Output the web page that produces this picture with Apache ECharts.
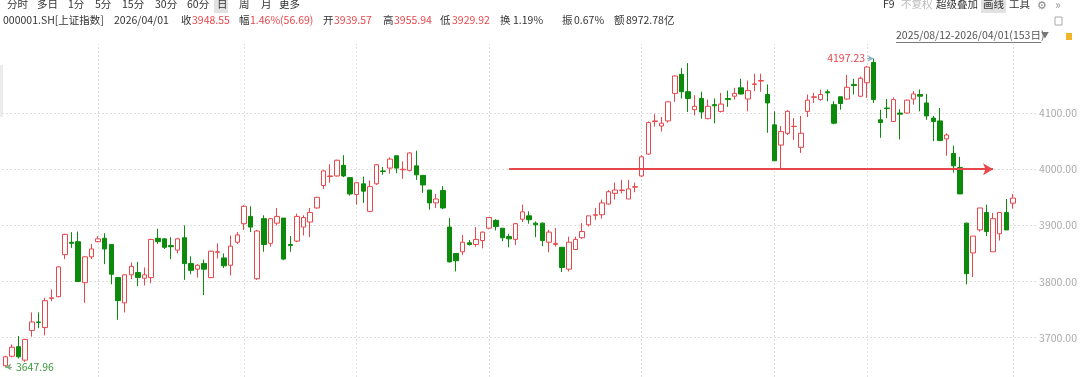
<!DOCTYPE html>
<html>
<head>
<meta charset="utf-8">
<title>上证指数 日K</title>
<script src="https://cdn.jsdelivr.net/npm/echarts@6/dist/echarts.min.js"></script>
<style>
  html, body { margin: 0; padding: 0; background: #fff; }
  #chart { width: 1080px; height: 377px; }
</style>
</head>
<body>
<div id="chart"></div>
<script>
// 交易区间 2025/08/12 - 2026/04/01（153日），休市日
const startDay = '2025-08-12'
const endDay = '2026-04-01'
const holidays = [
  '2025-10-01', '2025-10-02', '2025-10-03', '2025-10-06', '2025-10-07', '2025-10-08',
  '2026-01-01', '2026-01-02',
  '2026-02-16', '2026-02-17', '2026-02-18', '2026-02-19', '2026-02-20', '2026-02-23'
]

// 日K：开 / 收 / 低 / 高
const openVals = [
  3650, 3667, 3684, 3660, 3713, 3728, 3718, 3770, 3773, 3848,
  3870, 3871, 3798, 3844, 3871, 3877, 3866, 3807, 3762, 3812,
  3816, 3806, 3807, 3877, 3876, 3864, 3856, 3878, 3832, 3822,
  3832, 3807, 3852, 3842, 3829, 3870, 3903, 3916, 3805, 3912,
  3868, 3904, 3913, 3866, 3872, 3897, 3906, 3931, 3971, 3987,
  3988, 4007, 3985, 3955, 3974, 3925, 3974, 3997, 4002, 4024,
  3999, 3998, 4006, 3989, 3963, 3940, 3962, 3897, 3850, 3853,
  3869, 3866, 3873, 3895, 3909, 3895, 3880, 3875, 3911, 3917,
  3904, 3904, 3870, 3866, 3861, 3822, 3857, 3878, 3901, 3918,
  3919, 3938, 3957, 3962, 3947, 3968, 3988, 4027, 4085, 4077,
  4086, 4135, 4169, 4138, 4106, 4126, 4090, 4115, 4103, 4126,
  4130, 4145, 4125, 4151, 4157, 4133, 4079, 4043, 4064, 4076,
  4039, 4103, 4128, 4124, 4138, 4115, 4129, 4125, 4151, 4130,
  4154, 4190, 4088, 4109, 4085, 4100, 4100, 4125, 4133, 4118,
  4091, 4086, 4054, 4028, 4003, 3904, 3851, 3892, 3923, 3853,
  3885, 3923, 3939.57
]
const closeVals = [
  3666, 3683, 3666, 3697, 3728, 3727, 3766, 3771, 3826, 3884,
  3868, 3800, 3844, 3858, 3876, 3858, 3813, 3766, 3812, 3827,
  3807, 3812, 3875, 3871, 3861, 3862, 3876, 3832, 3820, 3829,
  3822, 3854, 3853, 3828, 3863, 3883, 3934, 3897, 3890, 3866,
  3912, 3916, 3840, 3864, 3916, 3914, 3923, 3950, 3997, 3988,
  4016, 3988, 3956, 3976, 3961, 3969, 4008, 3996, 4018, 4002,
  4000, 4029, 3990, 3972, 3940, 3947, 3931, 3835, 3837, 3870,
  3866, 3875, 3888, 3914, 3898, 3878, 3876, 3903, 3924, 3910,
  3901, 3873, 3888, 3868, 3825, 3870, 3875, 3889, 3917, 3919,
  3940, 3960, 3963, 3963, 3965, 3969, 4022, 4083, 4086, 4082,
  4120, 4166, 4138, 4126, 4112, 4102, 4112, 4113, 4116, 4124,
  4135, 4134, 4140, 4152, 4158, 4118, 4015, 4067, 4103, 4076.5,
  4064, 4123, 4129, 4133, 4136, 4082, 4117, 4146, 4149, 4162,
  4182, 4124, 4083, 4108, 4124, 4098, 4123, 4134, 4130, 4095,
  4085, 4051, 4061, 4006, 3956, 3814, 3881, 3931, 3889, 3912,
  3923, 3891.86, 3948.55
]
const lowVals = [
  3647.96, 3665, 3663, 3657, 3702, 3717, 3704, 3765, 3772, 3840,
  3860, 3799, 3762, 3840, 3870, 3831, 3795, 3732, 3745, 3804,
  3792, 3793, 3797, 3867, 3858, 3840, 3850, 3803, 3813, 3807,
  3776, 3806, 3841, 3824, 3811, 3867, 3892, 3888, 3803, 3853,
  3862, 3900, 3838, 3853, 3870, 3882, 3879, 3930, 3965, 3976,
  3987, 3986, 3953, 3937, 3940, 3924, 3972, 3990, 3992, 3993,
  3983, 3996, 3981, 3958, 3928, 3931, 3929, 3834, 3818, 3847,
  3864, 3862, 3859, 3893, 3891, 3872, 3861, 3865, 3906, 3903,
  3879, 3863, 3852, 3862, 3817, 3818, 3856, 3876, 3898, 3910,
  3912, 3937, 3946, 3957, 3947, 3959, 3986, 4026, 4076, 4067,
  4083, 4120, 4126, 4102, 4096, 4090, 4089, 4082, 4101, 4111,
  4124, 4133, 4103, 4139, 4138, 4065, 4015, 4000, 4061, 4052,
  4029, 4093, 4118, 4122, 4121, 4080, 4106, 4124, 4133, 4129,
  4127, 4118, 4056, 4091, 4085, 4053, 4099, 4115, 4103, 4088,
  4050, 4050, 4024, 3994, 3956, 3795, 3808, 3889, 3881, 3853,
  3873, 3891.86, 3929.92
]
const highVals = [
  3668, 3688, 3703, 3698, 3745, 3745, 3771, 3786, 3827, 3885,
  3888, 3889, 3845, 3867, 3881, 3886, 3866, 3808, 3813, 3834,
  3835, 3825, 3876, 3894, 3877, 3879, 3878, 3900, 3845, 3831,
  3839, 3855, 3868, 3850, 3882, 3888, 3936, 3934, 3892, 3918,
  3913, 3931, 3913, 3881, 3921, 3918, 3931, 3951, 3999, 4009,
  4017, 4025, 3985, 3977, 3987, 3980, 4009, 4004, 4021, 4024,
  4014, 4030, 4033, 3990, 3963, 3956, 3970, 3913, 3850, 3883,
  3874, 3897, 3889, 3915, 3911, 3895, 3885, 3904, 3937, 3925,
  3907, 3905, 3892, 3895, 3861, 3880, 3880, 3904, 3917, 3931,
  3946, 3963, 3976, 3981, 3981, 3976, 4025, 4085, 4098, 4093,
  4121, 4167, 4180, 4189, 4132, 4138, 4124, 4126, 4136, 4140,
  4145, 4161, 4158, 4170, 4170, 4151, 4103, 4077, 4105, 4091,
  4095, 4133, 4136, 4142, 4142, 4121, 4129, 4168, 4161, 4165,
  4184, 4197.23, 4106, 4125, 4128, 4107, 4124, 4139, 4142, 4134,
  4095, 4109, 4064, 4042, 4022, 3905, 3881, 3931, 3937, 3922,
  3923, 3947, 3955.94
]

// Y 轴刻度与可视范围
const yTicks = [3700, 3800, 3900, 4000, 4100]
const yMin = 3630
const yMax = 4223
// 区间最高 / 最低标注
const maxMark = { index: 131, value: 4197.23 }
const minMark = { index: 0, value: 3647.96 }
// 画线：4000 点水平线起止（交易日序号）
const drawLine = { from: 76, to: 149, value: 4000 }

const RED = '#e8474c'
const GREEN = '#0b8a0b'
const FONT = '"Noto Sans CJK SC", "Noto Sans", sans-serif'

/**
 * 生成交易日列表
 */
const buildTradingDays = () => {
  const days = []
  const d = new Date(startDay + 'T00:00:00Z')
  const end = new Date(endDay + 'T00:00:00Z')
  while (d <= end) {
    const wd = d.getUTCDay()
    const s = d.toISOString().slice(0, 10)
    if (wd !== 0 && wd !== 6 && !holidays.includes(s)) days.push(s.replace(/-/g, '/'))
    d.setUTCDate(d.getUTCDate() + 1)
  }
  return days
}

const dates = buildTradingDays()
// 右侧留白
const categories = dates.concat(['', '', ''])

// 每月首个交易日 -> 竖向网格线
const monthStarts = []
dates.forEach((s, i) => {
  if (i > 0 && s.slice(5, 7) !== dates[i - 1].slice(5, 7)) monthStarts.push(i)
})

const kData = dates.map((_, i) => [openVals[i], closeVals[i], lowVals[i], highVals[i]])

// 顶部工具栏文字
const tabItems = [
  ['分时', 7], ['多日', 37], ['1分', 68], ['5分', 95], ['15分', 122], ['30分', 155],
  ['60分', 187], ['日', 217], ['周', 239], ['月', 261], ['更多', 279]
]
const infoItems = [
  ['000001.SH[上证指数]', 3, '#333'], ['2026/04/01', 114, '#333'],
  ['收', 181, '#333'], ['3948.55', 192, RED],
  ['幅', 239, '#333'], ['1.46%(56.69)', 250, RED],
  ['开', 323, '#333'], ['3939.57', 334, RED],
  ['高', 383, '#333'], ['3955.94', 394, RED],
  ['低', 440, '#333'], ['3929.92', 452, RED],
  ['换', 500, '#333'], ['1.19%', 513, '#333'],
  ['振', 562, '#333'], ['0.67%', 574, '#333'],
  ['额', 614, '#333'], ['8972.78亿', 626, '#333']
]
const toolItems = [
  ['F9', 883, '#333'], ['不复权', 901, '#bbb'], ['超级叠加', 936, '#333'],
  ['画线', 983, '#333'], ['工具', 1009, '#333']
]

const textEl = (text, x, y, color, size) => ({
  type: 'text',
  left: x,
  top: y,
  silent: true,
  style: { text: text, fill: color, font: (size || 10.5) + 'px ' + FONT }
})

const graphics = [
  { type: 'rect', shape: { x: 214, y: 0, width: 14, height: 13 }, style: { fill: '#e2e2e2' }, silent: true },
  { type: 'rect', shape: { x: 981, y: 0, width: 25, height: 13 }, style: { fill: '#e2e2e2' }, silent: true },
  { type: 'rect', shape: { x: 0, y: 65, width: 3, height: 52 }, style: { fill: '#ececec' }, silent: true },
  { type: 'rect', shape: { x: 1055, y: 17, width: 7, height: 8 }, style: { fill: 'none', stroke: '#aaa', lineWidth: 1 }, silent: true },
  { type: 'rect', shape: { x: 1066, y: 33, width: 6, height: 7 }, style: { fill: '#f0b429' }, silent: true },
  { type: 'line', shape: { x1: 896, y1: 42.5, x2: 1041, y2: 42.5 }, style: { stroke: '#777', lineWidth: 1 }, silent: true }
]
tabItems.forEach(([t, x]) => graphics.push(textEl(t, x, -1, '#333')))
infoItems.forEach(([t, x, c]) => graphics.push(textEl(t, x, 14.5, c)))
toolItems.forEach(([t, x, c]) => graphics.push(textEl(t, x, -1, c)))
graphics.push(textEl('⚙', 1037, -1, '#888', 11))
graphics.push(textEl('»', 1055, -2, '#999', 12))
graphics.push(textEl('2025/08/12-2026/04/01(153日)', 896, 29.5, '#555'))
graphics.push(textEl('▼', 1041, 31, '#777', 8))

const chart = echarts.init(document.getElementById('chart'))

const gridLineStyle = { color: '#dedede', type: [2, 2], width: 1 }

chart.setOption({
  animation: false,
  backgroundColor: '#fff',
  graphic: graphics,
  grid: { left: 2, right: 40, top: 44, bottom: 0 },
  xAxis: {
    type: 'category',
    data: categories,
    boundaryGap: true,
    axisLine: { show: false },
    axisTick: { show: false },
    axisLabel: { show: false },
    splitLine: { show: false }
  },
  yAxis: {
    type: 'value',
    position: 'right',
    min: yMin,
    max: yMax,
    interval: 10,
    axisLine: { show: false },
    axisTick: { show: false },
    axisLabel: {
      margin: 3,
      color: '#aaa',
      fontSize: 10.5,
      fontFamily: FONT,
      formatter: v => (yTicks.includes(v) ? v.toFixed(2) : '')
    },
    splitLine: { show: false }
  },
  series: [
    {
      // 网格线：月份竖线 + 整百横线
      type: 'line',
      data: [],
      z: 1,
      silent: true,
      markLine: {
        z: 1,
        silent: true,
        symbol: ['none', 'none'],
        label: { show: false },
        lineStyle: gridLineStyle,
        data: monthStarts.map(i => ({ xAxis: i })).concat(yTicks.map(v => ({ yAxis: v })))
      }
    },
    {
      name: '上证指数',
      type: 'candlestick',
      z: 2,
      barWidth: 5,
      clip: false,
      data: kData,
      itemStyle: {
        color: '#ffffff',
        borderColor: RED,
        color0: GREEN,
        borderColor0: GREEN,
        borderWidth: 1
      },
      markLine: {
        silent: true,
        symbol: ['none', 'none'],
        animation: false,
        data: [
          [
            {
              coord: [drawLine.from, drawLine.value],
              symbol: 'none',
              lineStyle: { color: '#e8474c', width: 2, type: 'solid' },
              label: { show: false }
            },
            { coord: [drawLine.to, drawLine.value], symbol: 'arrow', symbolSize: [9, 10] }
          ],
          [
            {
              coord: [maxMark.index - 1, maxMark.value],
              symbol: 'none',
              lineStyle: { color: '#8fb3c7', width: 1, type: 'solid' },
              label: {
                show: true,
                position: 'start',
                distance: 2,
                formatter: maxMark.value.toFixed(2),
                color: RED,
                fontSize: 10.5,
                fontFamily: FONT
              }
            },
            { coord: [maxMark.index, maxMark.value], symbol: 'arrow', symbolSize: [5, 6] }
          ],
          [
            {
              coord: [minMark.index, minMark.value],
              symbol: 'arrow',
              symbolSize: [5, 6],
              lineStyle: { color: '#7fae7f', width: 1, type: 'solid' },
              label: {
                show: true,
                position: 'end',
                distance: 4,
                formatter: minMark.value.toFixed(2),
                color: '#3a9a3a',
                fontSize: 10.5,
                fontFamily: FONT
              }
            },
            { coord: [minMark.index + 1, minMark.value], symbol: 'none' }
          ]
        ]
      }
    }
  ]
})

window.addEventListener('resize', () => chart.resize())
</script>
</body>
</html>
